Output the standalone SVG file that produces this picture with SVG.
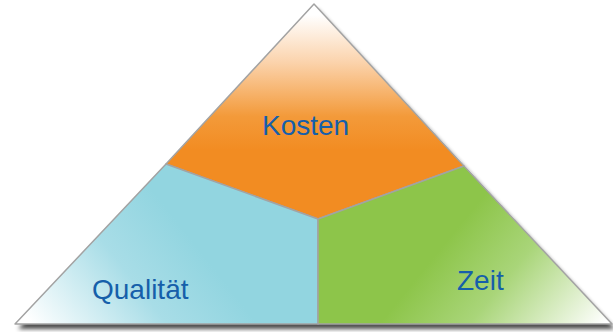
<svg xmlns="http://www.w3.org/2000/svg" width="613" height="332" viewBox="0 0 613 332">
<defs>
<style>
.seg{stroke:#A3A3A3;stroke-width:1.5;stroke-linejoin:round}
.lbl{font-family:"Liberation Sans",Arial,sans-serif;font-size:28px;fill:#165FAA}
</style>
<linearGradient id="gOrange" gradientUnits="userSpaceOnUse" x1="0" y1="15" x2="0" y2="150">
<stop offset="0" stop-color="#FFFFFF"/>
<stop offset="0.35" stop-color="#FBD3AC"/>
<stop offset="0.75" stop-color="#F39A3A"/>
<stop offset="1" stop-color="#F28C22"/>
</linearGradient>
<linearGradient id="gBlue" gradientUnits="userSpaceOnUse" x1="40" y1="335" x2="180" y2="225">
<stop offset="0" stop-color="#FFFFFF"/>
<stop offset="0.6" stop-color="#A8DDE7"/>
<stop offset="1" stop-color="#92D5E0"/>
</linearGradient>
<linearGradient id="gGreen" gradientUnits="userSpaceOnUse" x1="595" y1="335" x2="460" y2="225">
<stop offset="0" stop-color="#FFFFFF"/>
<stop offset="0.6" stop-color="#A9D579"/>
<stop offset="1" stop-color="#8DC54A"/>
</linearGradient>
<filter id="shadow" x="-5%" y="-5%" width="115%" height="120%">
<feGaussianBlur in="SourceAlpha" stdDeviation="2"/>
<feOffset dx="3" dy="5" result="b"/>
<feComponentTransfer><feFuncA type="linear" slope="0.7"/></feComponentTransfer>
<feMerge><feMergeNode/><feMergeNode in="SourceGraphic"/></feMerge>
</filter>
</defs>
<g filter="url(#shadow)">
<polygon points="314,4 15,324 612,324" fill="#FFFFFF"/>
</g>
<g id="kosten">
<polygon class="seg" points="314,4 166,164 318,219 464,166" fill="url(#gOrange)"/>
<text class="lbl" x="262" y="135">Kosten</text>
</g>
<g id="qualitaet">
<polygon class="seg" points="166,164 318,219 318,324 15,324" fill="url(#gBlue)"/>
<text class="lbl" x="92" y="299">Qualität</text>
</g>
<g id="zeit">
<polygon class="seg" points="464,166 318,219 318,324 612,324" fill="url(#gGreen)"/>
<text class="lbl" x="457" y="290">Zeit</text>
</g>
<g id="connectors"></g>
</svg>
